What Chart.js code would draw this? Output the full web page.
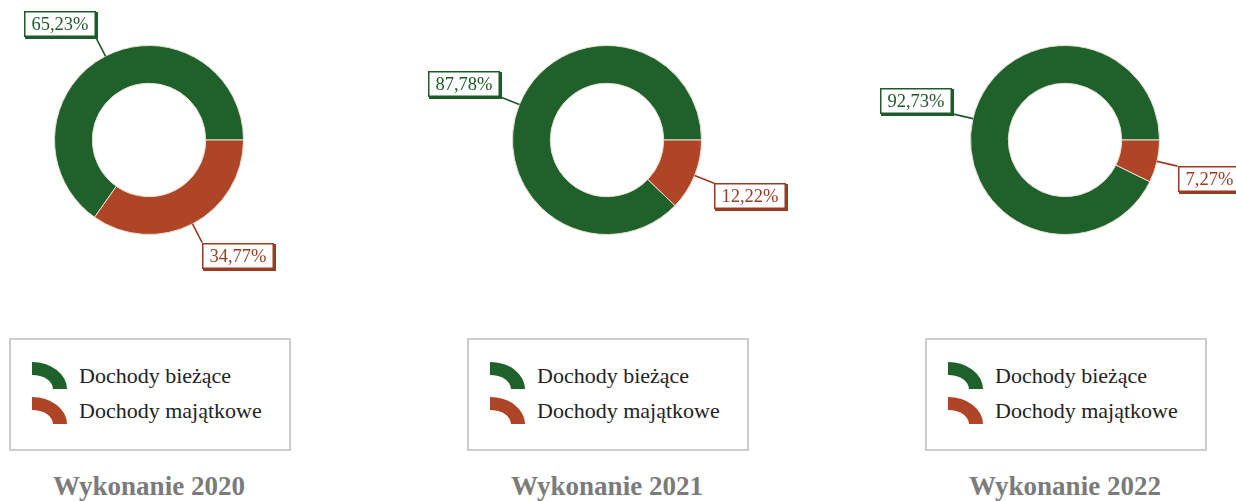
<!DOCTYPE html>
<html lang="pl">
<head>
<meta charset="utf-8">
<title>Struktura dochodów</title>
<script src="https://cdn.jsdelivr.net/npm/chart.js@4.4.1/dist/chart.umd.min.js"></script>
<style>
  html, body { margin: 0; padding: 0; background: #fff; }
  body { width: 1236px; height: 501px; position: relative; overflow: hidden; font-family: "Liberation Serif", "Times New Roman", serif; }
  .chart-box { position: absolute; top: 0; width: 420px; height: 290px; }
  .legend-box { position: absolute; top: 338px; width: 282px; height: 113px; box-sizing: border-box; border: 2px solid #cdcdcd; }
  .legend-item { position: absolute; left: 0; height: 28px; width: 100%; }
  .legend-icon { position: absolute; left: 21px; top: 0; width: 21px; height: 14px; border-top: 13px solid; border-right: 14px solid; border-top-right-radius: 35px 27px; }
  .legend-text { position: absolute; left: 68px; top: 0; line-height: 28px; font-size: 22px; color: #222; white-space: nowrap; }
  .year-title { position: absolute; top: 470px; width: 300px; height: 32px; line-height: 32px; text-align: center; font-size: 27px; font-weight: bold; color: #7b7b7b; }
</style>
</head>
<body>
<script>
  const TITLES = ["Wykonanie 2020", "Wykonanie 2021", "Wykonanie 2022"];
  const CATEGORIES = ["Dochody bieżące", "Dochody majątkowe"];
  const BIEZACE = [65.23, 87.78, 92.73];
  const MAJATKOWE = [34.77, 12.22, 7.27];

  const FILL = ["#1f612b", "#ad4526"];
  const TEXT = ["#1f5a2a", "#9a3a22"];
  const CENTERS = [149, 607, 1065];
  const LEAD = 21;

  function fmt(value) {
    return value.toFixed(2).replace(".", ",") + "%";
  }

  const calloutPlugin = {
    id: "callouts",
    afterDatasetsDraw(chart) {
      const ctx = chart.ctx;
      const meta = chart.getDatasetMeta(0);
      const values = chart.data.datasets[0].data;
      ctx.save();
      ctx.font = '18.5px "Liberation Serif", serif';
      meta.data.forEach((arc, i) => {
        const { x, y, startAngle, endAngle, outerRadius } = arc.getProps(["x", "y", "startAngle", "endAngle", "outerRadius"], true);
        const mid = (startAngle + endAngle) / 2;
        const dx = Math.cos(mid), dy = Math.sin(mid);
        const sx = x + dx * outerRadius, sy = y + dy * outerRadius;
        const ex = sx + dx * LEAD, ey = sy + dy * LEAD;
        ctx.strokeStyle = TEXT[i];
        ctx.lineWidth = 1.6;
        ctx.beginPath();
        ctx.moveTo(sx, sy);
        ctx.lineTo(ex, ey);
        ctx.stroke();

        const text = fmt(values[i]);
        const w = Math.round(ctx.measureText(text).width + 15);
        const h = 26;
        const bx = Math.round(dx >= 0 ? ex : ex - w);
        const by = Math.round(dy >= 0 ? ey : ey - h);
        ctx.fillStyle = TEXT[i];
        ctx.fillRect(bx + 1, by + 1, w + 1, h + 1);
        ctx.fillStyle = "#fff";
        ctx.fillRect(bx, by, w, h);
        ctx.lineWidth = 1.5;
        ctx.strokeRect(bx + 0.75, by + 0.75, w - 1.5, h - 1.5);
        ctx.fillStyle = TEXT[i];
        ctx.textAlign = "center";
        ctx.textBaseline = "middle";
        ctx.fillText(text, bx + w / 2, by + h / 2 + 1);
      });
      ctx.restore();
    }
  };

  TITLES.forEach((title, i) => {
    const center = CENTERS[i];

    const box = document.createElement("div");
    box.className = "chart-box";
    box.style.left = (center - 210) + "px";
    const canvas = document.createElement("canvas");
    canvas.width = 420;
    canvas.height = 290;
    box.appendChild(canvas);
    document.body.appendChild(box);

    const legend = document.createElement("div");
    legend.className = "legend-box";
    legend.style.left = (center - 140) + "px";
    legend.innerHTML = CATEGORIES.map((label, k) => `
      <div class="legend-item" style="top:${22 + k * 35}px">
        <span class="legend-icon" style="border-color:${FILL[k]}"></span>
        <span class="legend-text">${label}</span>
      </div>`).join("");
    document.body.appendChild(legend);

    const heading = document.createElement("div");
    heading.className = "year-title";
    heading.style.left = (center - 150) + "px";
    heading.textContent = title;
    document.body.appendChild(heading);

    new Chart(canvas, {
      type: "doughnut",
      data: {
        labels: CATEGORIES,
        datasets: [{
          data: [BIEZACE[i], MAJATKOWE[i]],
          backgroundColor: FILL,
          borderColor: "#eadfd2",
          borderWidth: 1
        }]
      },
      options: {
        responsive: false,
        animation: false,
        cutout: "60%",
        rotation: 90 + MAJATKOWE[i] / 100 * 360,
        layout: { padding: { left: 115, right: 115, top: 45, bottom: 55 } },
        plugins: {
          legend: { display: false },
          tooltip: { enabled: false }
        }
      },
      plugins: [calloutPlugin]
    });
  });
</script>
</body>
</html>
